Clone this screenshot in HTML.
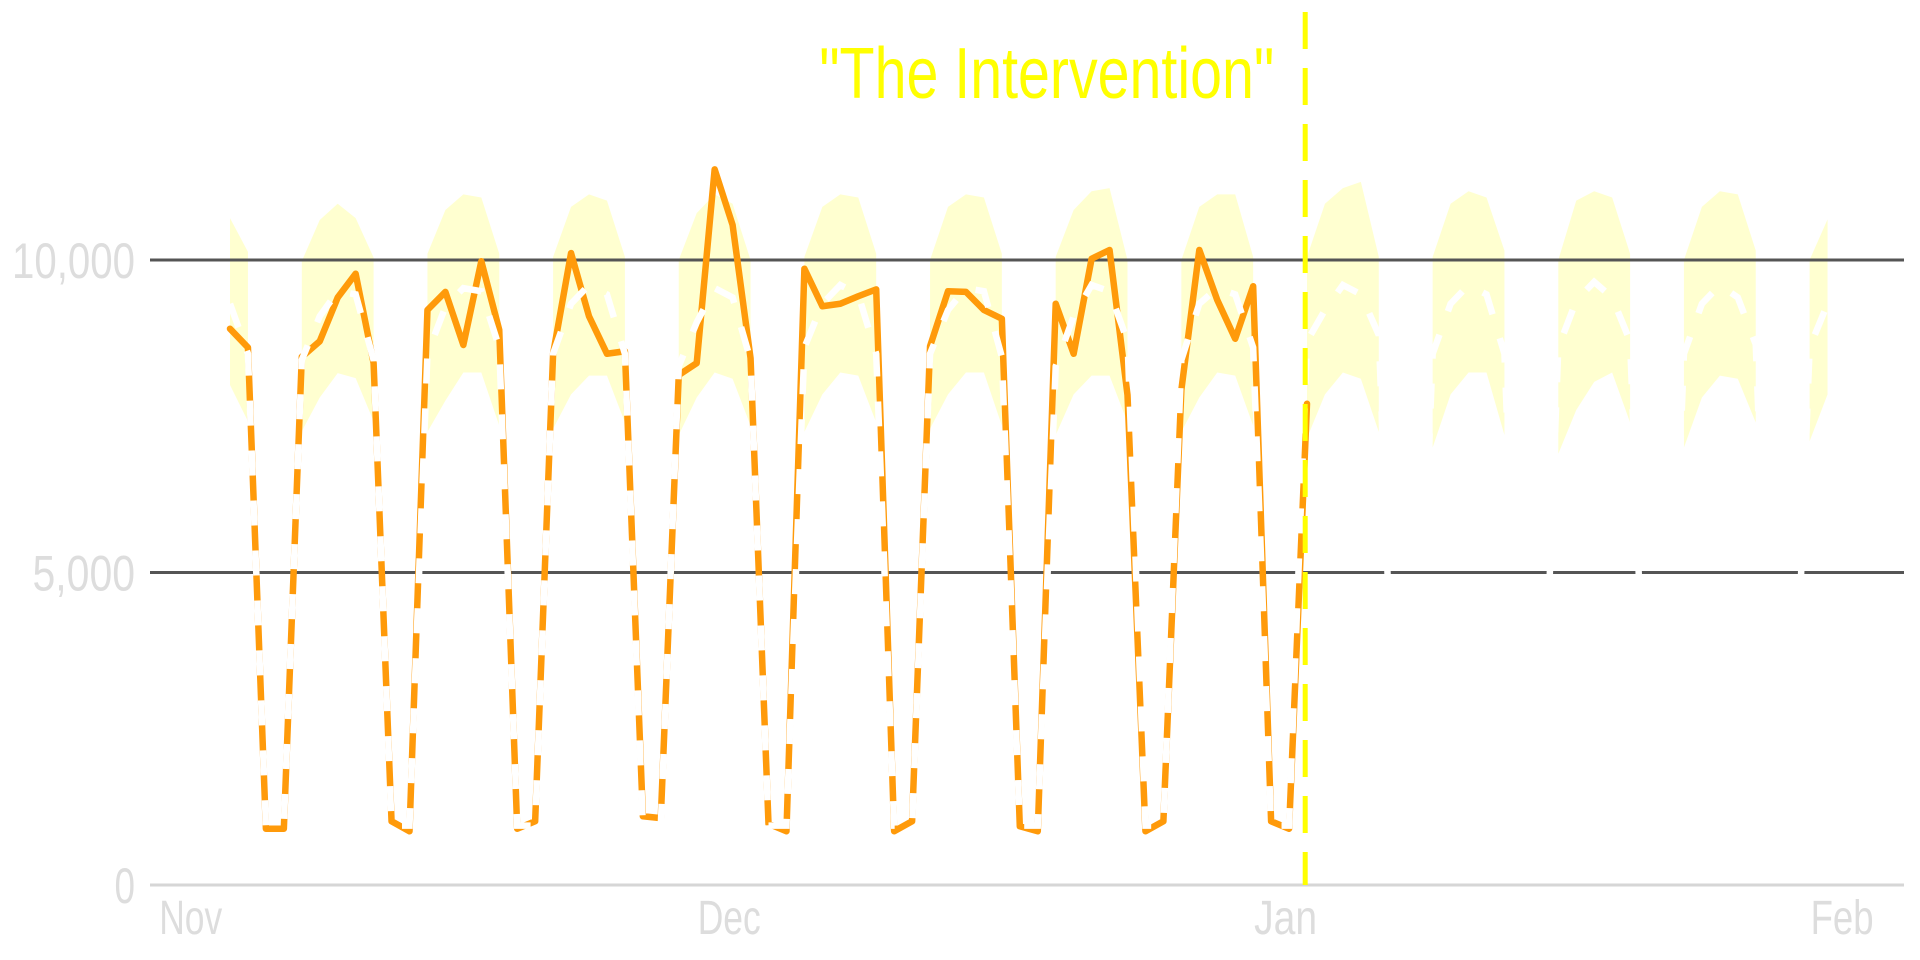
<!DOCTYPE html>
<html><head><meta charset="utf-8"><style>
html,body{margin:0;padding:0;background:#fff;width:1920px;height:960px;overflow:hidden}
svg{display:block}
text{font-family:"Liberation Sans",sans-serif}
</style></head><body>
<svg id="chart" width="1920" height="960" viewBox="0 0 1920 960" xmlns="http://www.w3.org/2000/svg">
  <g id="band-layer"></g>
  <g id="grid-layer"></g>
  <g id="actual-layer"></g>
  <g id="forecast-layer"></g>
  <g id="axis-layer"></g>
  <g id="annot-layer"></g>
</svg>
<script>
// ---- data (day index 0 = Nov 5) ----
const actualValues = [8900,8600,900,900,8450,8700,9400,9780,8350,1020,860,9200,9490,8640,9980,8880,900,1020,8500,10110,9100,8500,8540,1100,1070,8160,8350,11450,10560,8430,980,860,9860,9260,9300,9420,9530,860,1020,8620,9500,9490,9200,9060,940,860,9300,8500,10020,10160,7840,860,1020,7920,10160,9360,8740,9580,1020,900,7700];
const forecastValues = [9300,8500,950,950,
 8400,9100,9500,9450,8400,950,950,
 8500,9250,9550,9500,8600,950,950,
 8500,9300,9600,9450,8500,950,950,
 8300,9000,9550,9400,8400,950,950,
 8600,9300,9600,9450,8500,950,950,
 8500,9200,9550,9500,8450,950,950,
 8300,9100,9600,9500,8700,950,950,
 8400,9300,9550,9450,8600,950,950,
 8700,9200,9600,9450,8800,950,950,
 8500,9300,9600,9450,8500,950,950,
 8600,9350,9650,9400,8700,950,950,
 8500,9300,9600,9400,8650,950,950,
 8600,9300];
const bandUpper = [10670,10130,null,null,
 9980,10640,10900,10670,10040,null,null,
 10100,10800,11050,11000,10100,null,null,
 10050,10850,11050,10950,10050,null,null,
 10000,10750,11050,10900,10000,null,null,
 10050,10850,11050,11000,10100,null,null,
 10000,10850,11050,11000,10100,null,null,
 10050,10800,11100,11150,10000,null,null,
 10000,10850,11050,11050,10050,null,null,
 10050,10900,11150,11250,10050,null,null,
 10050,10900,11100,11000,10150,null,null,
 10000,10950,11100,11000,10100,null,null,
 10000,10850,11100,11050,10150,null,null,
 10000,10650];
const bandLower = [8000,7420,null,null,
 7260,7800,8190,8110,7420,null,null,
 7250,7750,8200,8200,7350,null,null,
 7300,7850,8150,8150,7400,null,null,
 7200,7800,8200,8100,7350,null,null,
 7250,7850,8200,8150,7400,null,null,
 7300,7850,8200,8200,7350,null,null,
 7200,7850,8150,8150,7400,null,null,
 7250,7800,8200,8150,7350,null,null,
 7150,7850,8200,8100,7250,null,null,
 7000,7850,8200,8200,7200,null,null,
 6900,7600,8050,8200,7400,null,null,
 7000,7800,8150,8100,7400,null,null,
 7100,7850];
const yTicks = [0,5000,10000];
const yTickLabels = ["0","5,000","10,000"];
const xTickDays = [-4,26,57,88];
const xTickLabels = ["Nov","Dec","Jan","Feb"];
const interventionDay = 59.9;
const annotationText = "\"The Intervention\"";

// ---- scales ----
const X0 = 230, DX = 17.95;
function xs(d){ return X0 + DX*d; }
function ys(v){ return 885 - v*0.0625; }
const NS = "http://www.w3.org/2000/svg";
function mk(tag, attrs, parent){
  const el = document.createElementNS(NS, tag);
  for (const k in attrs) el.setAttribute(k, attrs[k]);
  parent.appendChild(el);
  return el;
}
const band = document.getElementById('band-layer');
const grid = document.getElementById('grid-layer');
const act = document.getElementById('actual-layer');
const fc = document.getElementById('forecast-layer');
const axis = document.getElementById('axis-layer');
const annot = document.getElementById('annot-layer');

let run = [];
function flushRun(){
  if (run.length > 0) {
    const up = run.map(i => xs(i)+','+ys(bandUpper[i]));
    const lo = run.slice().reverse().map(i => xs(i)+','+ys(bandLower[i]));
    const p = mk('polygon', {points: up.concat(lo).join(' '), fill:'#ffffd0'}, band);
    
    
  }
  run = [];
}
for (let i = 0; i < bandUpper.length; i++) {
  if (bandUpper[i] === null) flushRun(); else run.push(i);
}
flushRun();

yTicks.forEach((v, k) => {
  const ln = mk('line', {x1:150, x2:1904, y1:ys(v), y2:ys(v), stroke: v===0 ? '#d6d6d6' : '#555', 'stroke-width': 3}, grid);
  
  
  const t = mk('text', {x:135, y:ys(v)+18, 'text-anchor':'end', 'font-size':50, fill:'#dddddd'}, axis);
  t.textContent = yTickLabels[k];
  t.setAttribute('textLength', yTickLabels[k].length*20.5);
  t.setAttribute('lengthAdjust', 'spacingAndGlyphs');
  
  
});
xTickDays.forEach((d, k) => {
  const t = mk('text', {x:xs(d)+1, y:934, 'font-size':48, fill:'#dddddd'}, axis);
  t.textContent = xTickLabels[k];
  t.setAttribute('textLength', 63);
  t.setAttribute('lengthAdjust', 'spacingAndGlyphs');
  
  
});

const aPts = actualValues.map((v,i) => xs(i)+','+ys(v)).join(' ');
const aLine = mk('polyline', {points:aPts, fill:'none', stroke:'#ff9a0a', 'stroke-width':6.5, 'stroke-linejoin':'round', 'stroke-linecap':'round'}, act);



const fPts = forecastValues.map((v,i) => xs(i)+','+ys(v)).join(' ');
const fLine = mk('polyline', {points:fPts, fill:'none', stroke:'#ffffff', 'stroke-width':6.5, 'stroke-dasharray':'25 25'}, fc);



const vx = xs(interventionDay);
const vl = mk('line', {x1:vx, x2:vx, y1:12, y2:885, stroke:'#ffff00', 'stroke-width':5, 'stroke-dasharray':'37 19'}, annot);


const at = mk('text', {x:vx-31, y:98, 'text-anchor':'end', 'font-size':72, fill:'#ffff00'}, annot);
at.textContent = annotationText;
at.setAttribute('textLength', 455);
at.setAttribute('lengthAdjust', 'spacingAndGlyphs');


</script>
</body></html>
